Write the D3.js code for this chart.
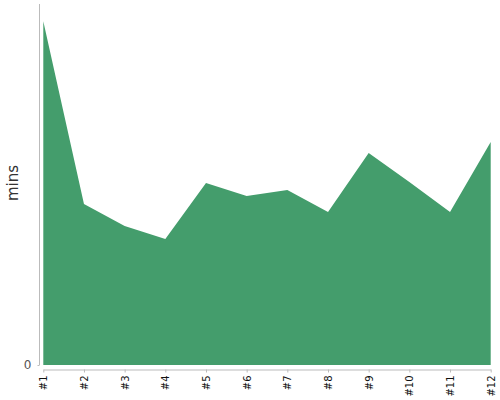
<!DOCTYPE html>
<html><head><meta charset="utf-8">
<script src="https://cdn.jsdelivr.net/npm/d3@7"></script>
<style>body{margin:0;background:#fff}svg{display:block}text{font-family:"DejaVu Sans",Verdana,sans-serif}</style>
</head><body><svg id="c" width="500" height="400"></svg>
<script>
const categories = ["#1","#2","#3","#4","#5","#6","#7","#8","#9","#10","#11","#12"];
const values = [34.4,16.1,13.9,12.6,18.2,16.9,17.5,15.3,21.2,18.3,15.3,22.3];
const yTicks = [0];
const yLabel = "mins";

const svg = d3.select("#c");
const x = d3.scalePoint().domain(categories).range([43.3, 490.7]);
const y = d3.scaleLinear().domain([0, d3.max(values) * 1.05]).range([365, 4]);
const data = categories.map((c, i) => ({c, v: values[i]}));

svg.append("path").datum(data)
  .attr("fill", "#449d6c")
  .attr("d", d3.area().x(d => x(d.c)).y0(y(0)).y1(d => y(d.v)));

const ya = svg.append("g").attr("transform", "translate(39.5,0)")
  .call(d3.axisLeft(y).tickValues(yTicks).tickSize(2).tickPadding(6).tickFormat(d3.format("d")));
ya.attr("font-family", null);
ya.select(".domain").attr("stroke", "#bbb").attr("d", "M0,4V365");
ya.selectAll(".tick line").attr("stroke", "#bbb");
ya.selectAll("text").attr("fill", "#555").attr("font-size", 12);

const xa = svg.append("g").attr("transform", "translate(0,369.5)")
  .call(d3.axisBottom(x).tickSize(3).tickSizeOuter(0));
xa.attr("font-family", null);
xa.select(".domain").attr("stroke", "#bbb");
xa.selectAll(".tick line").attr("stroke", "#bbb");
xa.selectAll("text")
  .attr("fill", "#111")
  .attr("font-size", 10)
  .attr("text-anchor", "end")
  .attr("transform", "rotate(-90)")
  .attr("x", -6).attr("y", 0).attr("dy", "0.35em");

svg.append("text")
  .attr("transform", "translate(18,183) rotate(-90)")
  .attr("text-anchor", "middle")
  .attr("fill", "#333")
  .attr("font-size", 15)
  .text(yLabel);
</script></body></html>
